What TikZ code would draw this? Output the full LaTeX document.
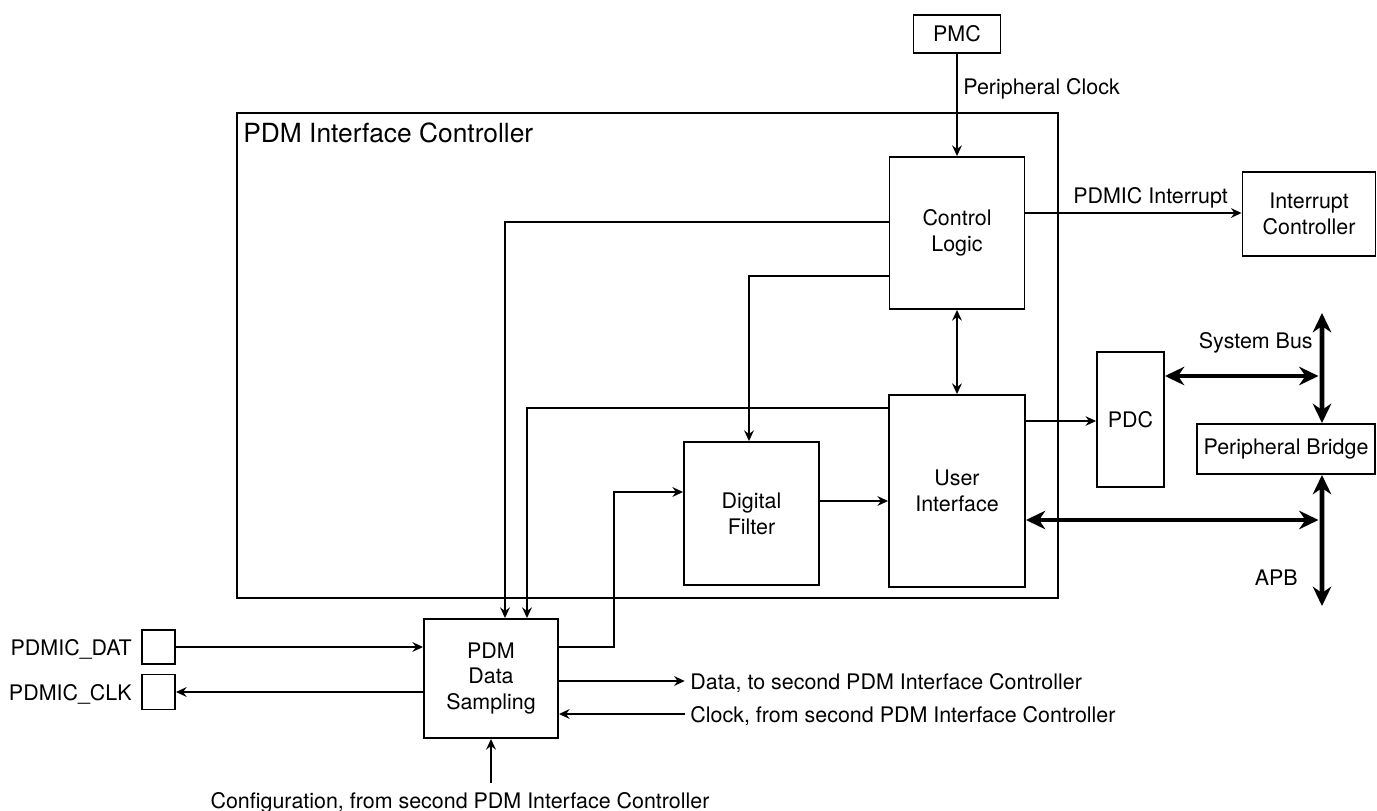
\documentclass[tikz,border=0pt]{standalone}
\usepackage{fontspec}
\setmainfont{TeX Gyre Heros}
\usetikzlibrary{arrows.meta}

\begin{document}
\begin{tikzpicture}[
    x=0.02cm, y=-0.02cm,
    font=\fontsize{12.2}{14.7}\selectfont,
    block/.style = { draw, line width=1.1pt, inner sep=0pt, align=center },
    txt/.style = { inner sep=0pt },
    wire/.style = { line width=1.2pt, -{Stealth[length=6pt, width=5.5pt]} },
    fine/.style = { line width=0.6pt, -{Stealth[length=6pt, width=5.5pt]} },
    bus/.style = { line width=2.8pt, {Stealth[length=11pt, width=10.5pt]}-{Stealth[length=11pt, width=10.5pt]} },
    ]

    \useasboundingbox (0,0) rectangle (1377,811);

    % controller frame
    \node[block, minimum width=16.42cm, minimum height=9.7cm] (pdmic) at (647.5,355.5) {};
    \node[txt, anchor=base west, font=\fontsize{15}{18}\selectfont] (pdmic-title) at (243,143) {PDM Interface Controller};

    % blocks
    \node[block, minimum width=1.74cm, minimum height=0.76cm] (pmc) at (957,34) {PMC};
    \node[block, minimum width=2.7cm, minimum height=3.04cm] (ctrl) at (957,233) {Control\\Logic};
    \node[block, minimum width=2.72cm, minimum height=3.84cm] (ui) at (957,491) {User\\Interface};
    \node[block, minimum width=2.7cm, minimum height=2.86cm] (df) at (751.5,513.5) {Digital\\Filter};
    \node[block, minimum width=1.34cm, minimum height=2.7cm] (pdc) at (1130.5,419.5) {PDC};
    \node[block, minimum width=3.56cm, minimum height=1.0cm] (bridge) at (1286,449) {Peripheral Bridge};
    \node[block, minimum width=2.66cm, minimum height=1.68cm] (intc) at (1309,214) {Interrupt\\Controller};
    \node[block, minimum width=2.68cm, minimum height=2.38cm] (samp) at (491,678.5) {PDM\\Data\\Sampling};
    \node[block, minimum width=0.66cm, minimum height=0.68cm] (dat) at (158.5,647) {};
    \node[block, minimum width=0.66cm, minimum height=0.7cm] (clk) at (158.5,692) {};

    % bus ends
    \coordinate (sb) at (1322,313);
    \coordinate (apb) at (1322,606);

    % labels
    \node[txt, anchor=base west] (pclk) at (963,95) {Peripheral Clock};
    \node[txt, anchor=base west] (irq) at (1073,204) {PDMIC Interrupt};
    \node[txt, anchor=base east] (sb-l) at (1313,348) {System Bus};
    \node[txt, anchor=base east] (apb-l) at (1298,585) {APB};
    \node[txt, anchor=base east] (dat-l) at (132,655) {PDMIC\_DAT};
    \node[txt, anchor=base east] (clk-l) at (132,700) {PDMIC\_CLK};
    \node[txt, anchor=base west] (dout) at (690,689) {Data, to second PDM Interface Controller};
    \node[txt, anchor=base west] (cin) at (690,722) {Clock, from second PDM Interface Controller};
    \node[txt, anchor=base] (cfg) at (460,808) {Configuration, from second PDM Interface Controller};

    % connections
    \draw[wire] (pmc) -- (ctrl);
    \draw[wire] ([yshift=0.22cm]ctrl.west) -| ([xshift=0.28cm]samp.north);
    \draw[wire] ([yshift=-0.86cm]ctrl.west) -| ([xshift=-0.05cm]df.north);
    \draw[wire] ([yshift=1.66cm]ui.west) -| ([xshift=0.72cm]samp.north);
    \draw[wire, <->, >={Stealth[length=6pt, width=5.5pt]}] (ctrl) -- (ui);
    \draw[wire] ([yshift=0.63cm]samp.east) -- ++(55,0) |- ([yshift=0.43cm]df.west);
    \draw[wire] ([yshift=0.25cm]df.east) -- ([yshift=0.25cm]df.east -| ui.west);
    \draw[fine] ([yshift=1.4cm]ui.east) -- ([yshift=1.4cm]ui.east -| pdc.west);
    \draw[fine] ([yshift=0.4cm]ctrl.east) -- ([yshift=0.4cm]ctrl.east -| intc.west);
    \draw[bus, shorten >=2pt] ([yshift=0.87cm]pdc.east) -- ([yshift=0.87cm]pdc.east -| sb);
    \draw[bus] (sb) -- ([xshift=0.72cm]bridge.north);
    \draw[bus] ([xshift=0.72cm]bridge.south) -- (apb);
    \draw[bus, shorten >=2pt] ([yshift=-0.58cm]ui.east) -- ([yshift=-0.58cm]ui.east -| apb);
    \draw[wire] (dat) -- (dat -| samp.west);
    \draw[wire] (clk -| samp.west) -- (clk);
    \draw[wire] (samp.east |- 0,681) -- ([xshift=-3pt]dout.west |- 0,681);
    \draw[wire] ([xshift=-3pt]cin.west |- 0,714) -- (samp.east |- 0,714);
    \draw[wire] (samp.south |- 0,783) -- (samp);

\end{tikzpicture}
\end{document}
